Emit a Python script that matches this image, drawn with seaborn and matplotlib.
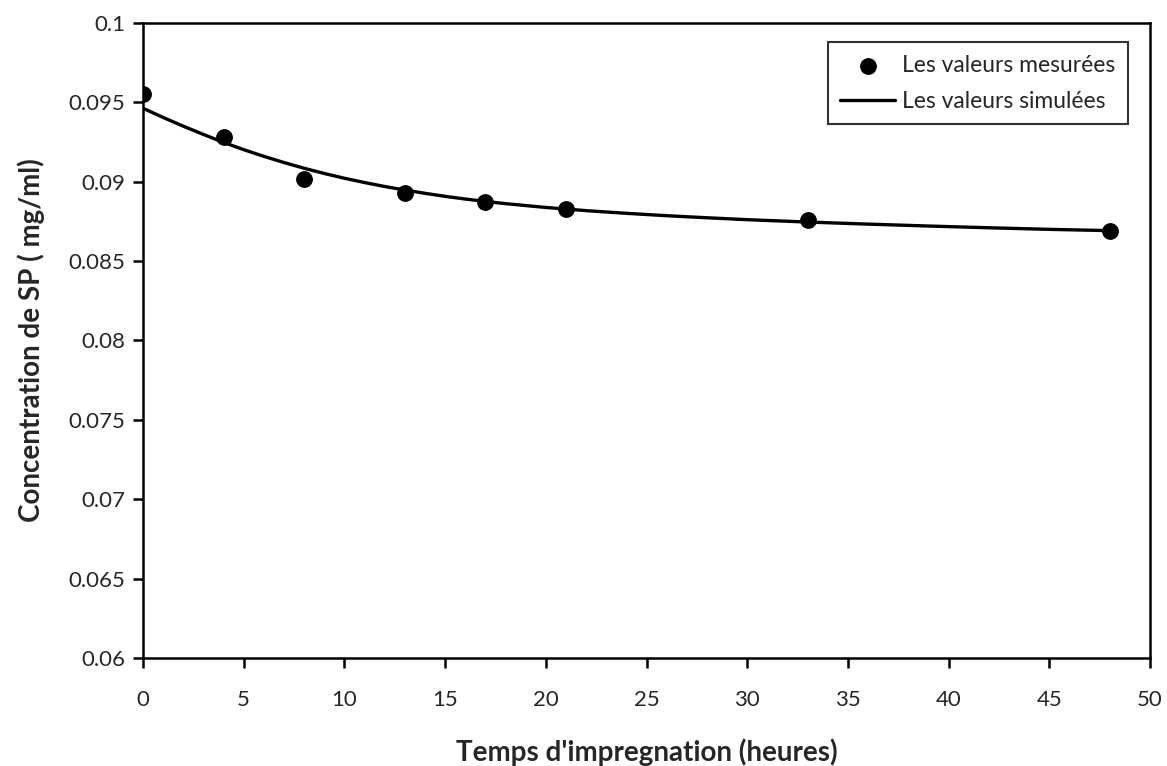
import numpy as np
import pandas as pd
import matplotlib
matplotlib.use("Agg")
import matplotlib.pyplot as plt
import seaborn as sns

# Valeurs mesurées
temps_mes = [0, 4, 8, 13, 17, 21, 33, 48]
conc_mes = [0.0955, 0.0928, 0.0902, 0.0893, 0.0887, 0.0883, 0.0876, 0.0869]

# Valeurs simulées
temps_sim = [0, 1, 2, 3, 4, 5, 6, 7, 8, 9, 10, 11, 12, 13, 14, 15, 16, 17, 18,
             20, 22, 24, 26, 28, 30, 33, 36, 39, 42, 45, 48]
conc_sim = [0.09463, 0.09405, 0.09350, 0.09298, 0.09248, 0.09202, 0.09160,
            0.09121, 0.09085, 0.09052, 0.09022, 0.08995, 0.08970, 0.08948,
            0.08927, 0.08908, 0.08891, 0.08876, 0.08862, 0.08838, 0.08818,
            0.08801, 0.08786, 0.08773, 0.08761, 0.08746, 0.08733, 0.08721,
            0.08710, 0.08700, 0.08692]

yticks = [0.06, 0.065, 0.07, 0.075, 0.08, 0.085, 0.09, 0.095, 0.1]
ytick_labels = ["0.06", "0.065", "0.07", "0.075", "0.08", "0.085", "0.09", "0.095", "0.1"]
xticks = [0, 5, 10, 15, 20, 25, 30, 35, 40, 45, 50]

df_mes = pd.DataFrame({"t": temps_mes, "c": conc_mes})
df_sim = pd.DataFrame({"t": temps_sim, "c": conc_sim})

sns.set_style("ticks")
plt.rcParams["font.family"] = ["Lato", "DejaVu Sans"]

fig = plt.figure(figsize=(11.67, 7.66), dpi=100)
ax = fig.add_axes([0.1225, 0.141, 0.863, 0.829])

sns.lineplot(data=df_sim, x="t", y="c", color="black", linewidth=2.4,
             label="Les valeurs simulées", ax=ax, zorder=2)
sns.scatterplot(data=df_mes, x="t", y="c", color="black", s=125,
                edgecolor="black", label="Les valeurs mesurées", ax=ax, zorder=3)

ax.set_xlim(0, 50)
ax.set_ylim(0.06, 0.1)
ax.set_xticks(xticks)
ax.set_yticks(yticks)
ax.set_yticklabels(ytick_labels)
ax.tick_params(direction="out", length=7, width=1.8, labelsize=16, colors="black",
               labelcolor="#262626")
ax.tick_params(axis="y", pad=6)
ax.tick_params(axis="x", pad=16)
for s in ax.spines.values():
    s.set_linewidth(1.8)
    s.set_color("black")
    s.set_visible(True)

ax.set_xlabel("Temps d'impregnation (heures)", fontsize=20, fontweight="bold")
ax.set_ylabel("Concentration de SP ( mg/ml)", fontsize=20, fontweight="bold")
ax.xaxis.set_label_coords(0.5, -0.127)
ax.yaxis.set_label_coords(-0.097, 0.5)

handles, labels = ax.get_legend_handles_labels()
order = [1, 0]
leg = ax.legend([handles[i] for i in order], [labels[i] for i in order],
                loc="upper right", bbox_to_anchor=(0.978, 0.97), fontsize=16.5,
                frameon=True, fancybox=False, edgecolor="black",
                handlelength=2.4, handletextpad=0.3, borderpad=0.55,
                labelspacing=0.65, borderaxespad=0)
leg.get_frame().set_linewidth(1.5)

fig.savefig("out.png", dpi=100)
